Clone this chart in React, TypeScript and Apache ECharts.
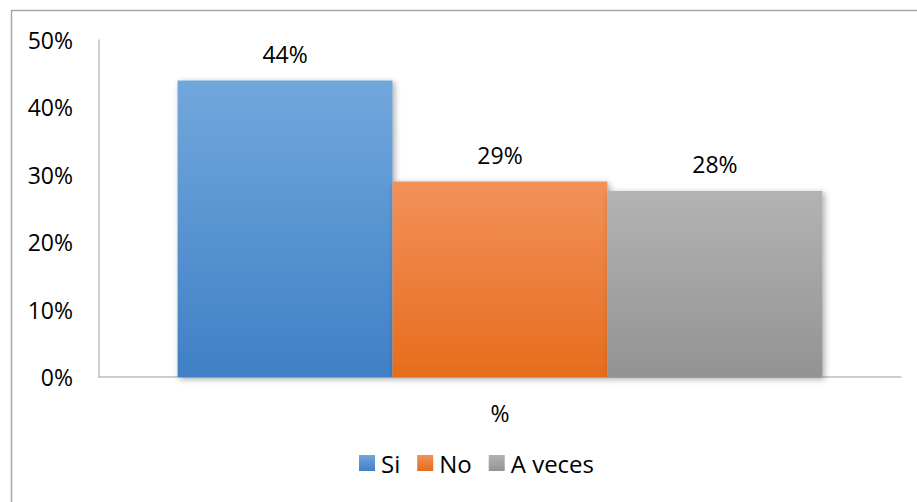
import React, { useEffect, useRef } from "react";
import * as echarts from "echarts";

const categories = ["%"];
const seriesNames = ["Si", "No", "A veces"];
const seriesValues = [44, 29, 27.6];
const seriesLabels = ["44%", "29%", "28%"];
const yTicks = { min: 0, max: 50, interval: 10 };

const gradients = [
  ["#72a7dc", "#3f80c6"],
  ["#f3915a", "#e66c1c"],
  ["#b3b3b3", "#939393"],
];

export default function App() {
  const ref = useRef<HTMLDivElement>(null);
  useEffect(() => {
    if (!ref.current) return;
    const chart = echarts.init(ref.current, null, { renderer: "svg" });
    const font = "'Open Sans', sans-serif";
    const fs = 23;
    chart.setOption({
      animation: false,
      backgroundColor: "#ffffff",
      textStyle: { fontFamily: font },
      graphic: [
        {
          type: "rect",
          shape: { x: 11.5, y: 10.5, width: 1000, height: 1000 },
          style: { fill: "none", stroke: "#a6a6a6", lineWidth: 1.5 },
          silent: true,
        },
      ],
      grid: { left: 99, right: 16, top: 40, bottom: 125 },
      legend: {
        data: seriesNames,
        bottom: 22,
        left: 354,
        itemWidth: 16,
        itemHeight: 16,
        itemGap: 17,
        icon: "rect",
        textStyle: { fontSize: 24, color: "#000", fontFamily: font, padding: [0, 0, 0, 1] },
      },
      xAxis: {
        type: "category",
        data: categories,
        axisLine: { show: true, lineStyle: { color: "#bfbfbf", width: 1.5 } },
        axisTick: { show: false },
        axisLabel: { fontSize: fs, color: "#000", margin: 24, fontFamily: font },
      },
      yAxis: {
        type: "value",
        min: yTicks.min,
        max: yTicks.max,
        interval: yTicks.interval,
        axisLine: { show: true, lineStyle: { color: "#bfbfbf", width: 1.5 } },
        axisTick: { show: false },
        splitLine: { show: false },
        axisLabel: { formatter: "{value}%", fontSize: fs, color: "#000", margin: 26, fontFamily: font },
      },
      series: seriesNames.map((name, i) => ({
        name,
        type: "bar",
        data: [seriesValues[i]],
        barGap: "0%",
        barCategoryGap: "19.6%",
        itemStyle: {
          color: new echarts.graphic.LinearGradient(0, 0, 0, 1, [
            { offset: 0, color: gradients[i][0] },
            { offset: 1, color: gradients[i][1] },
          ]),
          shadowColor: "rgba(0,0,0,0.35)",
          shadowBlur: 6,
          shadowOffsetX: 2,
          shadowOffsetY: 2,
        },
        label: {
          show: true,
          position: "top",
          distance: 15,
          formatter: () => seriesLabels[i],
          fontSize: fs,
          color: "#000",
          fontFamily: font,
        },
      })),
    });
    return () => chart.dispose();
  }, []);
  return (
    <div
      ref={ref}
      style={{ position: "absolute", left: 0, top: 0, width: 917, height: 502 }}
    />
  );
}
